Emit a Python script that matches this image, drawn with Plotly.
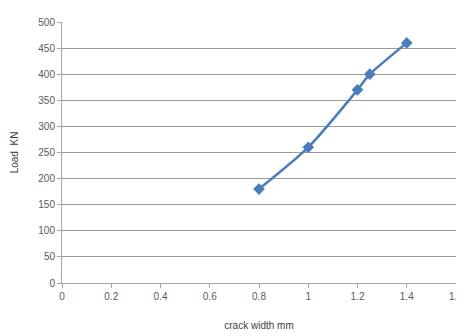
import plotly.graph_objects as go

crack_width = [0.8, 1.0, 1.2, 1.25, 1.4]
load_kn = [180, 260, 370, 400, 460]
x_ticks = [0, 0.2, 0.4, 0.6, 0.8, 1, 1.2, 1.4, 1.6]
x_tick_labels = ["0", "0.2", "0.4", "0.6", "0.8", "1", "1.2", "1.4", "1.6"]
y_ticks = list(range(0, 501, 50))

fig = go.Figure()
fig.add_trace(go.Scatter(
    x=crack_width, y=load_kn, mode="lines+markers",
    line=dict(color="#4a7ebb", width=2.5, shape="spline", smoothing=0.6),
    marker=dict(symbol="diamond", size=9, color="#4a7ebb"),
    showlegend=False,
))
# page body adds an 8px offset, so the figure is 456x328 and margins are compensated
fig.update_layout(
    width=456, height=328,
    margin=dict(l=54, r=8, t=14, b=53, autoexpand=False),
    paper_bgcolor="white", plot_bgcolor="white",
    font=dict(family="Liberation Sans, Arial", size=10, color="#595959"),
)
fig.update_xaxes(
    range=[0, 1.6], tickvals=x_ticks, ticktext=x_tick_labels,
    showgrid=False, showline=True, linecolor="#a6a6a6", linewidth=1,
    ticks="outside", ticklen=4, tickcolor="#a6a6a6",
    title=dict(text="crack width mm", font=dict(size=10, color="#404040"), standoff=20),
    zeroline=False, automargin=False,
)
fig.update_yaxes(
    range=[0, 500], tickvals=y_ticks,
    showgrid=True, gridcolor="#9a9a9a", gridwidth=1.4,
    showline=True, linecolor="#a6a6a6", linewidth=1,
    ticks="outside", ticklen=4, tickcolor="#a6a6a6",
    title=dict(text="Load  KN", font=dict(size=10, color="#404040"), standoff=17),
    zeroline=False, automargin=False,
)
fig.write_html("out.html")
